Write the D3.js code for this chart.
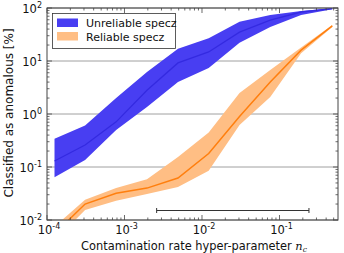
<!DOCTYPE html>
<html><head><meta charset="utf-8">
<script src="https://cdn.jsdelivr.net/npm/d3@7"></script>
<style>body{margin:0;background:#fff}svg{display:block;font-family:"DejaVu Sans",sans-serif}</style>
</head><body><svg id="c" width="344" height="253"></svg>
<script>
const xVals = [1.25e-4, 3.1e-4, 7.8e-4, 1.95e-3, 4.9e-3, 1.22e-2, 3.05e-2, 7.6e-2, 0.19, 0.48];
const unrelMean  = [0.13, 0.26, 0.71, 2.8, 9.2, 14.8, 35, 59, 84, 97];
const unrelLow   = [0.064, 0.135, 0.50, 1.35, 4.0, 7.4, 22, 44, 74, 95];
const unrelHigh  = [0.34, 0.61, 2.0, 6.2, 17, 27, 55, 74, 88, 99];
const relMean    = [0.0055, 0.020, 0.032, 0.040, 0.062, 0.18, 0.9, 4.0, 16, 46];
const relLow     = [0.004, 0.0155, 0.023, 0.031, 0.042, 0.085, 0.62, 2.1, 14, 44];
const relHigh    = [0.0075, 0.024, 0.040, 0.059, 0.155, 0.45, 2.5, 6.8, 18, 48];
const seriesNames = ["Unreliable specz", "Reliable specz"];
const rangeBar = [2.6e-3, 0.24];
const rangeBarY = 0.0155;
const xTickExps = [-4, -3, -2, -1];
const yTickExps = [-2, -1, 0, 1, 2];

const svg = d3.select("#c");
const L = 47, R = 338, T = 8, B = 220;
const x = d3.scaleLog().domain([1e-4, Math.pow(10, -0.245)]).range([L, R]);
const y = d3.scaleLog().domain([1e-2, 1e2]).range([B, T]);
const axisCol = "#444";

// gridlines
svg.append("g").selectAll("line").data(yTickExps).join("line")
  .attr("x1", L).attr("x2", R)
  .attr("y1", d => y(Math.pow(10, d))).attr("y2", d => y(Math.pow(10, d)))
  .attr("stroke", "#a0a0a0").attr("stroke-width", 1);

svg.append("clipPath").attr("id", "pc").append("rect")
  .attr("x", L).attr("y", T).attr("width", R - L).attr("height", B - T);
const plot = svg.append("g").attr("clip-path", "url(#pc)");

function band(low, high, fill) {
  const a = d3.area().x((d, i) => x(xVals[i])).y0((d, i) => y(low[i])).y1((d, i) => y(high[i]));
  plot.append("path").datum(xVals).attr("d", a).attr("fill", fill);
}
function line(vals, col, w) {
  const l = d3.line().x((d, i) => x(xVals[i])).y((d, i) => y(vals[i]));
  plot.append("path").datum(xVals).attr("d", l).attr("fill", "none").attr("stroke", col).attr("stroke-width", w);
}
band(unrelLow, unrelHigh, "rgb(72,62,242)");
line(unrelMean, "rgb(52,42,225)", 1.3);
band(relLow, relHigh, "rgb(255,190,132)");
line(relMean, "rgb(255,127,14)", 1.5);

// range bar
const rb = svg.append("g").attr("stroke", "#333").attr("stroke-width", 1);
const ry = Math.round(y(rangeBarY)) + 0.5;
rb.append("line").attr("x1", x(rangeBar[0])).attr("x2", x(rangeBar[1])).attr("y1", ry).attr("y2", ry);
rangeBar.forEach(v => rb.append("line").attr("x1", x(v)).attr("x2", x(v)).attr("y1", ry - 2.5).attr("y2", ry + 2.5));

// ticks (inward, all sides)
const tk = svg.append("g").attr("stroke", axisCol).attr("stroke-width", 0.8);
const xMinor = [], yMinor = [];
for (let e = -4; e <= 0; e++) for (let m = 2; m < 10; m++) { const v = m * Math.pow(10, e); if (v >= 1e-4 && v <= x.domain()[1]) xMinor.push(v); }
for (let e = -2; e < 2; e++) for (let m = 2; m < 10; m++) yMinor.push(m * Math.pow(10, e));
xTickExps.forEach(e => { const px = x(Math.pow(10, e));
  tk.append("line").attr("x1", px).attr("x2", px).attr("y1", B).attr("y2", B - 5);
  tk.append("line").attr("x1", px).attr("x2", px).attr("y1", T).attr("y2", T + 5); });
xMinor.forEach(v => { const px = x(v);
  tk.append("line").attr("x1", px).attr("x2", px).attr("y1", B).attr("y2", B - 2.5);
  tk.append("line").attr("x1", px).attr("x2", px).attr("y1", T).attr("y2", T + 2.5); });
yTickExps.forEach(e => { const py = y(Math.pow(10, e));
  tk.append("line").attr("x1", L).attr("x2", L + 5).attr("y1", py).attr("y2", py);
  tk.append("line").attr("x1", R).attr("x2", R - 5).attr("y1", py).attr("y2", py); });
yMinor.forEach(v => { const py = y(v);
  tk.append("line").attr("x1", L).attr("x2", L + 2.5).attr("y1", py).attr("y2", py);
  tk.append("line").attr("x1", R).attr("x2", R - 2.5).attr("y1", py).attr("y2", py); });

// frame
svg.append("rect").attr("x", L).attr("y", T).attr("width", R - L).attr("height", B - T)
  .attr("fill", "none").attr("stroke", axisCol).attr("stroke-width", 1);

// tick labels
function powLabel(g, e, px, py, anchor) {
  const t = g.append("text").attr("x", px).attr("y", py).attr("text-anchor", anchor)
    .attr("font-size", 11.5).attr("fill", "#111");
  t.append("tspan").text("10");
  t.append("tspan").attr("dy", -5).attr("font-size", 8).text(String(e));
}
const lab = svg.append("g");
xTickExps.forEach(e => powLabel(lab, e, x(Math.pow(10, e)) + 2, 233.5, "middle"));
yTickExps.forEach(e => powLabel(lab, e, 42, y(Math.pow(10, e)) + 5, "end"));

// axis titles
const xt = svg.append("text").attr("x", 194).attr("y", 249.5).attr("text-anchor", "middle")
  .attr("font-size", 11.4).attr("fill", "#111");
xt.append("tspan").text("Contamination rate hyper-parameter ");
xt.append("tspan").attr("font-family", "DejaVu Serif").attr("font-style", "italic").text("n");
xt.append("tspan").attr("font-family", "DejaVu Serif").attr("font-style", "italic").attr("font-size", 7.5).attr("dy", 2).text("c");
svg.append("text").attr("transform", "translate(13,113) rotate(-90)").attr("text-anchor", "middle")
  .attr("font-size", 12).attr("fill", "#111").text("Classified as anomalous [%]");

// legend
const lg = svg.append("g");
lg.append("rect").attr("x", 52.5).attr("y", 13.5).attr("width", 123).attr("height", 35)
  .attr("fill", "#fff").attr("stroke", "#333").attr("stroke-width", 0.8);
const legCols = ["rgb(72,62,242)", "rgb(255,190,132)"];
seriesNames.forEach((n, i) => {
  lg.append("rect").attr("x", 57).attr("y", 18.5 + i * 13.5).attr("width", 21).attr("height", 8.5).attr("fill", legCols[i]);
  lg.append("text").attr("x", 86).attr("y", 27 + i * 13.5).attr("font-size", 11).attr("fill", "#111").text(n);
});
</script></body></html>
